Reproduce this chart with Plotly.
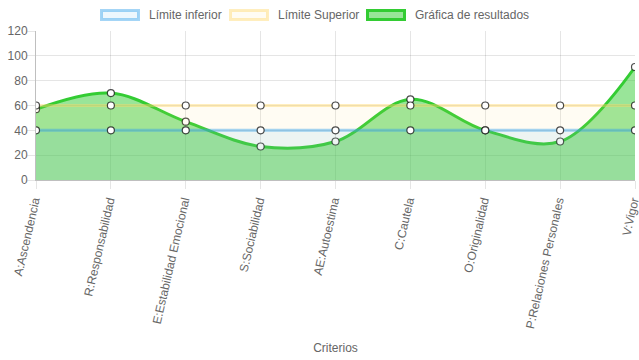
import plotly.graph_objects as go

categorias = ["A:Ascendencia", "R:Responsabilidad", "E:Estabilidad Emocional",
              "S:Sociabilidad", "AE:Autoestima", "C:Cautela", "O:Originalidad",
              "P:Relaciones Personales", "V:Vigor"]
limite_inferior = [40, 40, 40, 40, 40, 40, 40, 40, 40]
limite_superior = [60, 60, 60, 60, 60, 60, 60, 60, 60]
resultados = [57, 70, 47, 27, 31, 65, 40, 31, 91]
series_nombres = ["Límite inferior", "Límite Superior", "Gráfica de resultados"]

font_fam = "Liberation Sans, Arial, Helvetica, sans-serif"
marker = dict(size=7, color="white", line=dict(color="rgba(0,0,0,0.7)", width=1.2))

line_cols = ["rgba(54,162,235,0.45)", "rgba(255,215,100,0.42)", "rgb(51,204,51)"]
fill_cols = ["rgba(54,162,235,0.09)", "rgba(255,215,100,0.08)", "rgba(51,204,51,0.5)"]

fig = go.Figure()
fig.add_trace(go.Scatter(
    x=categorias, y=resultados, name=series_nombres[2], showlegend=False,
    mode="lines+markers", line=dict(color=line_cols[2], width=3, shape="spline", smoothing=1),
    fill="tozeroy", fillcolor=fill_cols[2], marker=marker))
fig.add_trace(go.Scatter(
    x=categorias, y=limite_superior, name=series_nombres[1], showlegend=False,
    mode="lines+markers", line=dict(color=line_cols[1], width=3),
    fill="tozeroy", fillcolor=fill_cols[1], marker=marker))
fig.add_trace(go.Scatter(
    x=categorias, y=limite_inferior, name=series_nombres[0], showlegend=False,
    mode="lines+markers", line=dict(color=line_cols[0], width=3),
    fill="tozeroy", fillcolor=fill_cols[0], marker=marker))

# Chart.js-style legend: boxes + text
PX0, PX1, PY0, PY1 = 36, 635, 31, 180  # plot area in screen pixels
def px(x):
    return (x - PX0) / (PX1 - PX0)
def py(y):
    return (PY1 - y) / (PY1 - PY0)

box_left = [100, 229, 366]
for i, nm in enumerate(series_nombres):
    x0 = box_left[i]
    fig.add_shape(type="rect", xref="paper", yref="paper",
                  x0=px(x0 + 1.5), x1=px(x0 + 38.5), y0=py(10.5), y1=py(19.5),
                  line=dict(color=line_cols[i], width=3), fillcolor=fill_cols[i],
                  layer="above")
    fig.add_annotation(xref="paper", yref="paper", x=px(x0 + 46.5), y=py(15),
                       xanchor="left", yanchor="middle", showarrow=False, text=nm,
                       font=dict(size=12, color="#666"))

fig.update_layout(
    width=639, height=360,
    margin=dict(l=36, r=4, t=31, b=180, autoexpand=False),
    paper_bgcolor="white", plot_bgcolor="white",
    font=dict(family=font_fam, size=12, color="#666"),
    showlegend=False,
    xaxis=dict(type="category", range=[0, 8], tickangle=-77, automargin=False,
               ticklabelshift=-2,
               showgrid=True, gridcolor="rgba(0,0,0,0.1)", gridwidth=1,
               ticks="outside", ticklen=8, tickcolor="rgba(0,0,0,0.1)",
               showline=True, linecolor="rgba(0,0,0,0.25)", linewidth=1,
               title=dict(text="Criterios", font=dict(size=12, color="#666"), standoff=14),
               tickfont=dict(size=12, color="#666")),
    yaxis=dict(range=[0, 120], dtick=20, showgrid=True, gridcolor="rgba(0,0,0,0.1)",
               automargin=False, ticklabelstandoff=-3,
               ticks="outside", ticklen=8, tickcolor="rgba(0,0,0,0.1)",
               showline=True, linecolor="rgba(0,0,0,0.25)", linewidth=1,
               zeroline=False, tickfont=dict(size=12, color="#666")),
)
fig.write_html("out.html", config={"displayModeBar": False},
               post_script="document.body.style.margin='0px';")
